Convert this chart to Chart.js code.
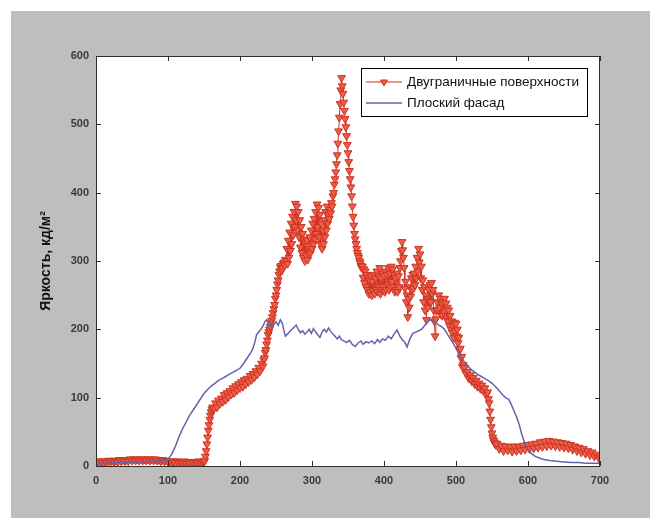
<!DOCTYPE html>
<html>
<head>
<meta charset="utf-8">
<script src="https://cdn.jsdelivr.net/npm/chart.js@4/dist/chart.umd.min.js"></script>
<style>
  html, body { margin: 0; padding: 0; background: #ffffff; }
  #wrap { width: 650px; height: 518px; }
</style>
</head>
<body>
<div id="wrap"><canvas id="c" width="650" height="518"></canvas></div>
<script>
// Luminance profiles along the facade: [position, luminance cd/m²]
const seriesNames = ['Двуграничные поверхности', 'Плоский фасад'];
const yTitle = 'Яркость, кд/м²';
const xTickValues = [0, 100, 200, 300, 400, 500, 600, 700];
const yTickValues = [0, 100, 200, 300, 400, 500, 600];

const twoSidedSurfaces = [
  [0,5],[2.5,7],[5,4],[7.5,7],[10,5],[12.5,7],[15,5],[17.5,8],[20,6],[22.5,8],[25,6],[27.5,8],[30,6],
  [32.5,9],[35,7],[37.5,9],[40,7],[42.5,9],[45,7],[47.5,10],[50,8],[52.5,10],[55,8],[57.5,10],[60,8],
  [62.5,10],[65,8],[67.5,10],[70,8],[72.5,10],[75,8],[77.5,10],[80,8],[82.5,10],[85,8],[87.5,9],[90,7],
  [92.5,9],[95,7],[97.5,8],[100,6],[102.5,7],[105,5],[107.5,7],[110,5],[112.5,7],[115,5],[117.5,6],
  [120,5],[122.5,7],[125,5],[127.5,6],[130,4],[132.5,6],[135,5],[137.5,6],[140,5],[142.5,7],[145,5],
  [147.5,6],[150,6],
  [151,8],[152,14],[153,22],[154,32],[155,42],[156,52],[157,60],[158,68],[159,74],[160,79],[161,83],[162,86],
  [164,84],[166,92],[168,86],[170,96],[172,91],[174,99],[176,94],[178,104],[180,97],[182,107],[184,101],
  [186,110],[188,105],[190,114],[192,107],[194,117],[196,111],[198,120],[200,114],[202,123],[204,116],
  [206,126],[208,120],[210,128],[212,123],[214,132],[216,126],[218,135],[220,130],[222,139],[224,134],
  [226,144],[228,139],[230,150],[232,146],
  [233,155],[234,158],[235,166],[236,170],[237,178],[238,184],[239,192],[240,196],[241,200],[242,204],
  [243,210],[244,213],[245,218],[246,224],[247,230],[248,236],[249,245],[250,250],[251,258],[252,266],
  [253,272],[254,280],[255,285],[256,291],[257,293],[258,286],[259,290],[260,296],[261,298],[262,294],
  [263,302],[264,300],[265,318],[266,296],[267,330],[268,305],[269,342],[270,315],[271,355],[272,325],
  [273,365],[274,338],[275,372],[276,350],[277,384],[278,360],[279,380],[280,345],[281,372],[282,335],
  [283,360],[284,320],[285,350],[286,312],[287,340],[288,305],[289,332],[290,300],[291,325],[292,308],
  [293,330],[294,302],[295,322],[296,310],[297,335],[298,312],[299,345],[300,318],[301,355],[302,325],
  [303,362],[304,332],[305,372],[306,340],[307,383],[308,350],[309,378],[310,335],[311,368],[312,325],
  [313,355],[314,318],[315,345],[316,325],[317,360],[318,335],[319,372],[320,345],[321,380],[322,355],
  [323,368],[324,362],[325,375],[326,370],[327,385],[328,380],[329,395],[330,400],[331,412],[332,420],
  [333,430],[334,442],[335,455],[336,472],[337,490],[338,510],[339,530],[340,550],[341,568],[342,556],
  [343,545],[344,532],[345,520],[346,508],[347,496],[348,483],[349,470],[350,458],[351,445],[352,432],
  [353,420],[354,408],[355,395],[356,380],[357,365],[358,352],[359,340],[360,332],[361,325],[362,318],
  [363,312],[364,308],[365,305],[366,300],[367,297],[368,293],[369,290],
  [370,292],[371,276],[372,288],[373,268],[374,285],[375,262],[376,280],[377,258],[378,275],[379,252],
  [380,272],[381,255],[382,278],[383,250],[384,270],[385,256],[386,280],[387,252],[388,275],[389,258],
  [390,285],[391,255],[392,278],[393,262],[394,290],[395,252],[396,275],[397,258],[398,282],[399,262],
  [400,278],[401,255],[402,285],[403,258],[404,280],[405,265],[406,290],[407,258],[408,282],[409,262],
  [410,292],[411,270],[412,288],[413,262],[414,280],[415,255],[416,275],[417,258],[418,282],[419,255],
  [420,278],[421,262],[422,290],[423,300],[424,315],[425,328],[426,316],[427,305],
  [428,290],[429,260],[430,270],[431,240],[432,250],[433,218],[434,245],[435,232],[436,262],[437,248],
  [438,275],[439,258],[440,280],[441,260],[442,282],[443,265],[444,292],[445,275],[446,305],[447,285],
  [448,318],[449,298],[450,310],[451,275],[452,292],[453,258],[454,272],[455,240],[456,262],[457,228],
  [458,250],[459,214],[460,245],[461,232],[462,258],[463,242],[464,265],[465,240],[466,268],[467,252],
  [468,258],[469,228],[470,212],[471,190],[472,215],[473,228],[474,240],[475,228],[476,250],[477,232],
  [478,245],[479,222],[480,238],[481,220],[482,240],[483,225],[484,245],[485,228],[486,238],[487,215],
  [488,232],[489,212],[490,228],[491,205],[492,220],[493,200],[494,212],[495,195],[496,205],[497,188],
  [498,210],[499,198],[500,208],[501,190],[502,200],[503,180],[504,188],[505,170],[506,172],[507,158],
  [508,160],[509,145],[510,148],
  [512,144],[514,135],[516,138],[518,128],[520,133],[522,124],[524,129],[526,120],[528,125],[530,116],
  [532,121],[534,113],[536,118],[538,110],[540,114],[542,104],[544,108],[545,98],
  [546,92],[547,80],[548,68],[549,57],[550,48],[551,42],[552,38],[553,35],[554,33],[555,31],
  [557,33],[560,25],[563,30],[566,22],[569,29],[572,23],[575,28],[578,21],[581,29],[584,22],[587,28],
  [590,23],[593,30],[596,24],[599,31],[602,25],[605,32],[608,26],[611,33],[614,27],[617,35],[620,28],
  [623,36],[626,29],[629,37],[632,30],[635,36],[638,29],[641,35],[644,28],[647,34],[650,27],[653,33],
  [656,26],[659,31],[662,24],[665,29],[668,22],[671,27],[674,20],[677,25],[680,18],[683,22],[686,16],
  [689,20],[692,14],[695,17],[698,12],[700,14]
];

const flatFacade = [
  [0,3],[10,4],[20,4],[30,5],[40,5],[50,6],[60,6],[70,7],[80,7],[90,8],[95,8],[100,10],[105,17],[110,28],
  [115,42],[120,54],[125,64],[130,74],[135,82],[140,90],[145,98],[150,106],[155,112],[160,117],[165,121],
  [170,125],[175,128],[180,131],[185,134],[190,137],[195,140],[200,143],[205,150],[210,158],[215,166],
  [218,172],[221,183],[223,192],[226,196],[229,200],[232,205],[235,212],[237,214],[240,206],[242,208],
  [244,202],[247,207],[250,211],[253,206],[256,214],[259,208],[261,198],[263,190],[266,193],[270,198],
  [274,202],[278,206],[281,200],[284,195],[287,198],[290,193],[293,196],[296,200],[299,194],[302,201],
  [305,196],[308,192],[311,188],[314,196],[317,200],[320,196],[323,202],[326,197],[329,193],[332,190],
  [335,186],[338,190],[341,185],[344,183],[348,181],[352,184],[356,178],[360,175],[364,180],[368,183],
  [371,178],[375,182],[379,180],[383,183],[387,179],[391,185],[394,181],[398,186],[402,184],[406,190],
  [410,186],[414,193],[418,199],[422,190],[426,184],[429,181],[432,174],[436,186],[440,194],[444,196],
  [448,198],[452,200],[456,205],[460,210],[464,214],[468,212],[472,210],[476,206],[480,204],[484,200],
  [488,193],[492,186],[496,180],[500,172],[505,162],[510,155],[515,148],[520,142],[525,138],[530,134],
  [535,131],[540,128],[545,125],[550,121],[555,116],[560,110],[565,104],[570,99],[573,98],[576,92],
  [580,82],[584,72],[588,60],[591,48],[594,38],[597,30],[600,24],[605,18],[610,14],[615,12],[620,10],
  [630,8],[640,7],[650,6],[660,5],[670,5],[680,4],[690,4],[700,4]
];

const RED = '#d2301f';
const RED_FILL = '#e8604c';
const BLUE = '#6464ad';
const FRAME = '#2e2e2e';

// Page background: thin white margin, gray panel, white plotting area
const backdrop = {
  id: 'backdrop',
  beforeDraw(chart) {
    const { ctx, chartArea: a } = chart;
    ctx.save();
    ctx.fillStyle = '#ffffff';
    ctx.fillRect(0, 0, chart.width, chart.height);
    ctx.fillStyle = 'rgb(192,190,188)';
    ctx.fillRect(11, 11, chart.width - 11, chart.height - 11);
    ctx.fillStyle = '#ffffff';
    ctx.fillRect(a.left, a.top, a.right - a.left, a.bottom - a.top);
    ctx.restore();
  }
};

// Boxed axes with inward tick marks on all four sides
const boxAxes = {
  id: 'boxAxes',
  afterDatasetsDraw(chart) {
    const { ctx, chartArea: a, scales } = chart;
    const len = 5;
    ctx.save();
    ctx.strokeStyle = FRAME;
    ctx.lineWidth = 1;
    ctx.strokeRect(a.left + 0.5, a.top + 0.5, a.right - a.left - 1, a.bottom - a.top);
    ctx.beginPath();
    xTickValues.forEach(v => {
      const px = Math.round(scales.x.getPixelForValue(v)) + 0.5;
      ctx.moveTo(px, a.bottom); ctx.lineTo(px, a.bottom - len);
      ctx.moveTo(px, a.top); ctx.lineTo(px, a.top + len);
    });
    yTickValues.forEach(v => {
      const py = Math.round(scales.y.getPixelForValue(v)) + 0.5;
      ctx.moveTo(a.left, py); ctx.lineTo(a.left + len, py);
      ctx.moveTo(a.right, py); ctx.lineTo(a.right - len, py);
    });
    ctx.stroke();
    ctx.restore();
  }
};

function drawDownTriangle(ctx, x, y, r) {
  ctx.beginPath();
  ctx.moveTo(x, y + r);
  ctx.lineTo(x - r * 0.866, y - r * 0.5);
  ctx.lineTo(x + r * 0.866, y - r * 0.5);
  ctx.closePath();
  ctx.fill();
  ctx.stroke();
}

// Legend box in the upper right of the plotting area
const boxLegend = {
  id: 'boxLegend',
  afterDraw(chart) {
    const { ctx } = chart;
    const bx = 361, by = 68, bw = 226, bh = 48;
    ctx.save();
    ctx.fillStyle = '#ffffff';
    ctx.fillRect(bx, by, bw, bh);
    ctx.strokeStyle = '#000000';
    ctx.lineWidth = 1;
    ctx.strokeRect(bx + 0.5, by + 0.5, bw, bh);

    const rows = [by + 14, by + 35];
    const x0 = bx + 5, x1 = bx + 41;
    // first entry: red line with marker
    ctx.strokeStyle = RED;
    ctx.lineWidth = 1.2;
    ctx.beginPath(); ctx.moveTo(x0, rows[0]); ctx.lineTo(x1, rows[0]); ctx.stroke();
    ctx.fillStyle = RED_FILL;
    ctx.lineWidth = 1;
    drawDownTriangle(ctx, (x0 + x1) / 2, rows[0], 4);
    // second entry: blue line
    ctx.strokeStyle = BLUE;
    ctx.lineWidth = 1.5;
    ctx.beginPath(); ctx.moveTo(x0, rows[1]); ctx.lineTo(x1, rows[1]); ctx.stroke();

    ctx.fillStyle = '#111111';
    ctx.font = '13.5px "Liberation Sans", Arial, sans-serif';
    ctx.textBaseline = 'middle';
    ctx.textAlign = 'left';
    seriesNames.forEach((name, i) => {
      ctx.fillText(name, bx + 46, rows[i] + 0.5);
    });
    ctx.restore();
  }
};

const tickFont = { family: '"Liberation Sans", Arial, sans-serif', size: 11, weight: 'bold' };

new Chart(document.getElementById('c'), {
  type: 'line',
  data: {
    datasets: [
      {
        label: seriesNames[1],
        data: flatFacade.map(([x, y]) => ({ x, y })),
        borderColor: BLUE,
        borderWidth: 1.5,
        pointRadius: 0,
        tension: 0,
        order: 0
      },
      {
        label: seriesNames[0],
        data: twoSidedSurfaces.map(([x, y]) => ({ x, y })),
        borderColor: RED,
        borderWidth: 1,
        pointStyle: 'triangle',
        pointRotation: 180,
        pointRadius: 4.5,
        pointBorderWidth: 1,
        pointBorderColor: RED,
        pointBackgroundColor: RED_FILL,
        tension: 0,
        order: 1
      }
    ]
  },
  options: {
    responsive: false,
    animation: false,
    devicePixelRatio: 1,
    layout: { padding: { left: 0, top: 56, right: 50, bottom: 0 } },
    plugins: { legend: { display: false }, tooltip: { enabled: false } },
    scales: {
      x: {
        type: 'linear',
        min: 0, max: 700,
        afterBuildTicks(scale) { scale.ticks = xTickValues.map(v => ({ value: v })); },
        afterFit(scale) { scale.height = 52; },
        grid: { display: false, drawTicks: false },
        border: { display: false },
        ticks: { color: '#3a3a3a', font: tickFont, padding: 8, maxRotation: 0 }
      },
      y: {
        type: 'linear',
        min: 0, max: 600,
        afterBuildTicks(scale) { scale.ticks = yTickValues.map(v => ({ value: v })); },
        afterFit(scale) { scale.width = 96; },
        grid: { display: false, drawTicks: false },
        border: { display: false },
        ticks: { color: '#3a3a3a', font: tickFont, padding: 7 },
        title: {
          display: true,
          text: yTitle,
          color: '#111111',
          font: { family: '"Liberation Sans", Arial, sans-serif', size: 14, weight: 'bold' },
          padding: { top: 38, bottom: 0 }
        }
      }
    }
  },
  plugins: [backdrop, boxAxes, boxLegend]
});
</script>
</body>
</html>
